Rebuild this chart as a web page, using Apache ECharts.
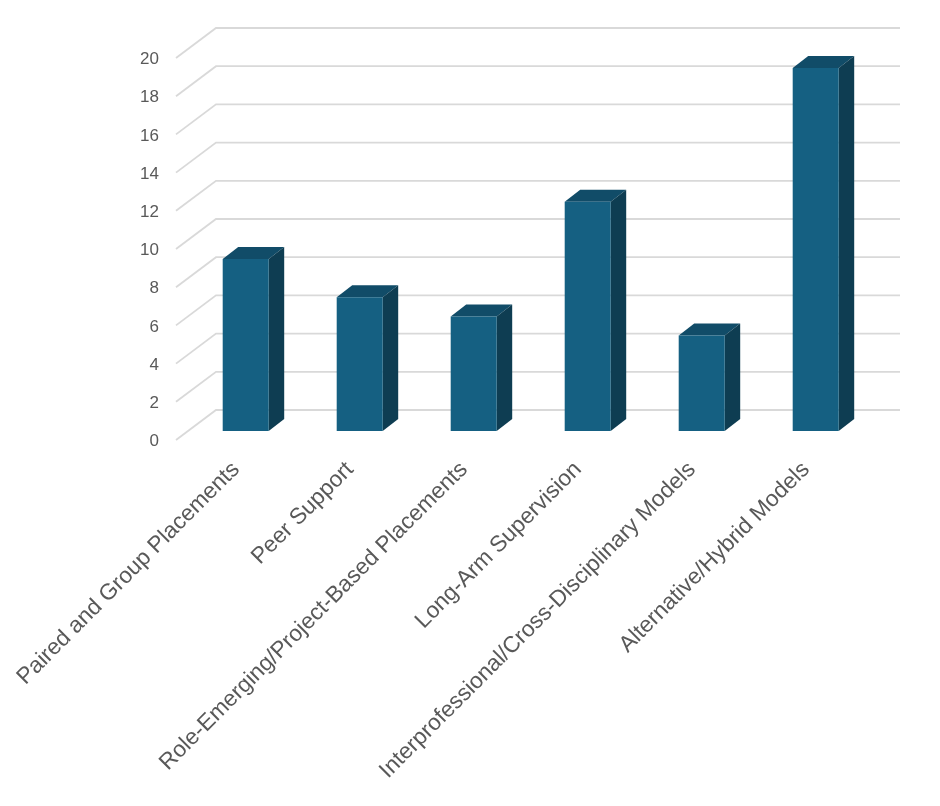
<!DOCTYPE html>
<html><head><meta charset="utf-8">
<style>html,body{margin:0;padding:0;background:#fff}#c{width:940px;height:806px}</style>
<script src="https://cdn.jsdelivr.net/npm/echarts@6/dist/echarts.min.js"></script>
</head><body><div id="c"></div>
<script>
const categories = ["Paired and Group Placements","Peer Support","Role-Emerging/Project-Based Placements","Long-Arm Supervision","Interprofessional/Cross-Disciplinary Models","Alternative/Hybrid Models"];
const values = [9,7,6,12,5,19];
const gridValues = [0,2,4,6,8,10,12,14,16,18,20];
const FRONT='#156082', SIDE='#0E3D52', TOP='#114C68', GRID='#D9D9D9', TEXT='#595959';
const sideDX=-3, sideDY=-1.5, wallDX=37, wallDY=-31.5, barDX=9.7, barDY=-10.5, depthX=15.5, depthY=-12, barW=46;
const chart=echarts.init(document.getElementById('c'),null,{renderer:'canvas'});
chart.setOption({
  animation:false,
  backgroundColor:'#fff',
  grid:{left:179,top:59.5,width:684,height:382,containLabel:false},
  xAxis:{type:'category',data:categories,axisLine:{show:false},axisTick:{show:false},splitLine:{show:false},
    axisLabel:{interval:0,rotate:45,margin:24.5,color:TEXT,fontSize:22.7,fontFamily:'"Liberation Sans",Arial,sans-serif'}},
  yAxis:{type:'value',min:0,max:20,interval:2,axisLine:{show:false},axisTick:{show:false},splitLine:{show:false},
    axisLabel:{margin:20,color:TEXT,fontSize:17,fontFamily:'"Liberation Sans",Arial,sans-serif'}},
  series:[
    {type:'custom',silent:true,clip:false,z:1,data:gridValues.map(v=>[0,v]),encode:{x:0,y:1},
      renderItem(params,api){
        const cs=params.coordSys, y=api.coord([0,api.value(1)])[1];
        const L=cs.x, R=cs.x+cs.width;
        return {type:'polyline',shape:{points:[[L+sideDX,y+sideDY],[L+wallDX,y+wallDY],[R+wallDX,y+wallDY]]},
          style:{stroke:GRID,lineWidth:1.8,fill:null}};
      }},
    {type:'custom',silent:true,clip:false,z:2,data:values.map((v,i)=>[i,v]),encode:{x:0,y:1},
      renderItem(params,api){
        const top=api.coord([api.value(0),api.value(1)]), base=api.coord([api.value(0),0]);
        const l=top[0]+barDX-barW/2, r=l+barW, t=top[1]+barDY, b=base[1]+barDY;
        return {type:'group',children:[
          {type:'polygon',shape:{points:[[l,t],[l+depthX,t+depthY],[r+depthX,t+depthY],[r,t]]},style:{fill:TOP}},
          {type:'polygon',shape:{points:[[r,t],[r+depthX,t+depthY],[r+depthX,b+depthY],[r,b]]},style:{fill:SIDE}},
          {type:'rect',shape:{x:l,y:t,width:barW,height:b-t},style:{fill:FRONT}}
        ]};
      }}
  ]
});
</script></body></html>
